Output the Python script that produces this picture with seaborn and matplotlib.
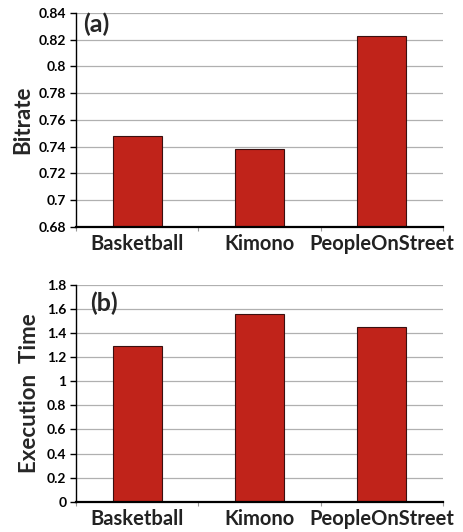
import matplotlib
matplotlib.use("Agg")
import matplotlib.pyplot as plt
import seaborn as sns
import pandas as pd
from matplotlib.ticker import FixedLocator

sequences = ["Basketball", "Kimono", "PeopleOnStreet"]
bitrate = [0.748, 0.738, 0.823]
exec_time = [1.29, 1.555, 1.455]
bitrate_ticks = [0.68, 0.70, 0.72, 0.74, 0.76, 0.78, 0.80, 0.82, 0.84]
bitrate_labels = ["0.68", "0.7", "0.72", "0.74", "0.76", "0.78", "0.8", "0.82", "0.84"]
time_ticks = [0, 0.2, 0.4, 0.6, 0.8, 1.0, 1.2, 1.4, 1.6, 1.8]
time_labels = ["0", "0.2", "0.4", "0.6", "0.8", "1", "1.2", "1.4", "1.6", "1.8"]

sns.set_style("white")
plt.rcParams["font.family"] = ["Lato", "DejaVu Sans"]
plt.rcParams["font.weight"] = "bold"

BAR = "#C0231A"
fig = plt.figure(figsize=(4.64, 5.32), dpi=100)
ax1 = fig.add_axes([0.164, 0.5733, 0.791, 0.4023])
ax2 = fig.add_axes([0.164, 0.0570, 0.791, 0.4073])

def panel(ax, values, ticks, labels, ylabel, tag, ylabel_x, tag_xy):
    df = pd.DataFrame({"seq": sequences, "val": values})
    sns.barplot(data=df, x="seq", y="val", ax=ax, color=BAR, width=0.4,
                edgecolor="#3a1010", linewidth=0.8, saturation=1)
    ax.set_xlim(-0.5, 2.5)
    ax.set_ylim(ticks[0], ticks[-1])
    ax.set_yticks(ticks)
    ax.set_yticklabels(labels, fontsize=10, fontweight="bold")
    ax.yaxis.grid(True, color="#b0b0b0", linewidth=0.9)
    ax.set_axisbelow(True)
    for s in ["top", "right"]:
        ax.spines[s].set_visible(False)
    ax.spines["left"].set_color("black")
    ax.spines["left"].set_linewidth(1.0)
    ax.spines["bottom"].set_color("black")
    ax.spines["bottom"].set_linewidth(1.6)
    ax.tick_params(axis="y", left=True, length=4, width=1, pad=3, colors="black")
    ax.tick_params(axis="x", which="major", length=0, pad=5, labelsize=14.5)
    for t in ax.get_xticklabels():
        t.set_fontweight("bold")
        t.set_color("#222222")
    ax.xaxis.set_minor_locator(FixedLocator([-0.5, 0.5, 1.5, 2.5]))
    ax.tick_params(axis="x", which="minor", bottom=True, length=3, width=0.8,
                   color="#999999")
    ax.set_xlabel("")
    ax.set_ylabel(ylabel, fontsize=16, fontweight="bold")
    ax.yaxis.set_label_coords(ylabel_x, 0.5)
    ax.text(tag_xy[0], tag_xy[1], tag, transform=ax.transAxes, fontsize=18,
            fontweight="bold", va="top", ha="left")

panel(ax1, bitrate, bitrate_ticks, bitrate_labels, "Bitrate", "(a)", -0.118, (0.02, 1.0))
panel(ax2, exec_time, time_ticks, time_labels, "Execution  Time", "(b)", -0.098, (0.038, 0.97))

fig.savefig("out.png", dpi=100)
